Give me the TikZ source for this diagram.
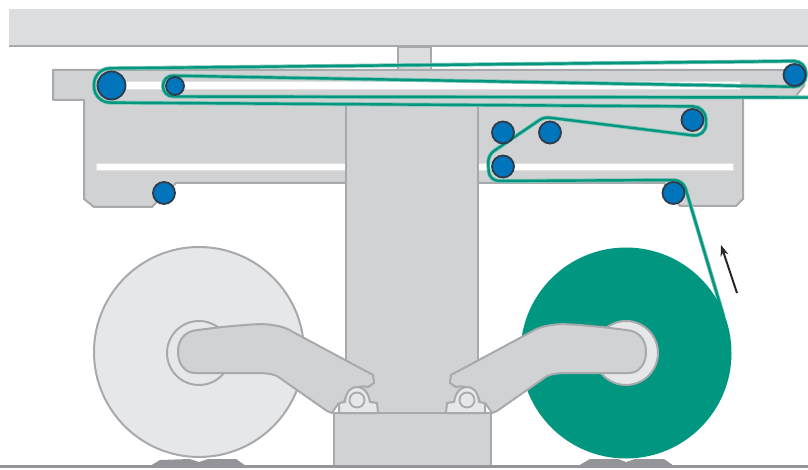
\documentclass[tikz,border=0pt]{standalone}
\usetikzlibrary{arrows.meta}
\definecolor{plate}{HTML}{D1D2D4}
\definecolor{bar}{HTML}{DCDDDE}
\definecolor{edge}{HTML}{A7A9AC}
\definecolor{pale}{HTML}{E6E7E8}
\definecolor{teal}{HTML}{00967F}
\definecolor{halo}{HTML}{7CC4B5}
\definecolor{roll}{HTML}{0075BC}
\definecolor{rim}{HTML}{2F3B4A}
\definecolor{ground}{HTML}{939598}
\tikzset{
 body/.style={fill=plate,draw=edge,line width=2pt,line join=round},
 slot/.style={fill=white,draw=black!12,line width=1pt},
 rollerS/.style={circle,fill=roll,draw=rim,line width=1.8pt,inner sep=0pt,minimum size=22pt},
 reel/.style={draw=edge,line width=2pt},
}
\newcommand{\armshape}{
 \draw[body] (178,352) .. controls (178,338) and (186,331) .. (198,330)
   -- (222,327) .. controls (245,325) and (262,323) .. (272,325)
   .. controls (280,326) and (287,328) .. (293,332)
   -- (373,375) -- (374,383) -- (368,387) .. controls (358,384) and (346,392) .. (344,402)
   -- (338,404) -- (332,413) -- (327,411) -- (277,376)
   .. controls (270,373) and (262,373) .. (250,373)
   -- (195,373) .. controls (185,373) and (178,364) .. (178,352) -- cycle;
 \draw[fill=pale,draw=edge,line width=2pt,line join=round]
   (339,413) -- (339,403) -- (345,402) .. controls (346,391) and (351,387) .. (357,387)
   .. controls (363,387) and (368,391) .. (370,402) -- (377,403) -- (378,413) -- cycle;
 \draw[fill=pale,draw=edge,line width=1.8pt] (357,400) circle[radius=7.5];
}
\begin{document}
\begin{tikzpicture}[x=1pt,y=-1pt]
\useasboundingbox (0,0) rectangle (808,470);
% top beam
\fill[bar] (9,9) rectangle (808,46);
\draw[edge,line width=2pt] (9,46.5) -- (808,46.5);
\draw[fill=bar,draw=edge,line width=1.2pt] (398,47) rectangle (431,70);
% plate
\draw[body] (53,70) -- (798,70) -- (804,76) -- (804,86) -- (795,97) -- (743,97)
  -- (743,199) -- (736,206) -- (680,206) -- (664,183) -- (176,183) -- (152,207)
  -- (94,207) -- (84,199) -- (84,100) -- (53,100) -- cycle;
\draw[slot] (120,82) rectangle (740,90);
\draw[slot] (96,163.5) rectangle (733,171);
% column and base
\draw[body] (346,104) rectangle (478,414);
\draw[body] (334,413) rectangle (491,466);
% floor pads
\fill[ground] (150,466) -- (160,460) -- (190,459) -- (199,462) -- (208,459) -- (236,459) -- (246,466) -- cycle;
\fill[ground] (578,466) -- (590,459) -- (618,459) -- (626,462) -- (635,459) -- (664,459) -- (674,466) -- cycle;
\draw[ground,line width=3pt] (0,466.5) -- (808,466.5);
% web
\foreach \c/\w in {halo/4pt,teal/2.4pt}{
\draw[\c,line width=\w,line cap=round]
 (723.5,316) [rounded corners=9pt] -- (683,180) [rounded corners=10pt] -- (489,181)
 [rounded corners=7pt] -- (488,155) [rounded corners=5pt] -- (544,117)
 [rounded corners=13pt] -- (706,137) -- (706,106.5)
 [rounded corners=16pt] -- (94,102.5) -- (94,68.5)
 [rounded corners=12pt] -- (806,61) -- (806,87)
 [rounded corners=10pt] -- (163,75.5) -- (163,96.5) -- (808,97.5);
}
% reels
\draw[reel,fill=pale] (199,352) circle[radius=105];
\fill[teal] (626,353) circle[radius=105.5];
\draw[reel,fill=pale] (199,353) circle[radius=32];
\draw[reel,fill=pale] (626,353) circle[radius=32];
% arms
\armshape
\begin{scope}[xshift=824pt,xscale=-1]
\armshape
\end{scope}
% rollers
\node[rollerS,minimum size=28pt] (r1) at (111.5,85.5) {};
\node[rollerS,minimum size=18pt] (r2) at (175,86) {};
\node[rollerS] (r3) at (794.5,75) {};
\node[rollerS] (r4) at (692.5,120) {};
\node[rollerS] (r5) at (503,132.5) {};
\node[rollerS] (r6) at (550,132.5) {};
\node[rollerS] (r7) at (503,166.5) {};
\node[rollerS] (r8) at (673.5,193) {};
\node[rollerS] (r9) at (164,193) {};
% arrow
\draw[-{Stealth[length=11pt,width=8pt]},black!85,line width=2pt] (737,293) -- (721,245);
\end{tikzpicture}
\end{document}
